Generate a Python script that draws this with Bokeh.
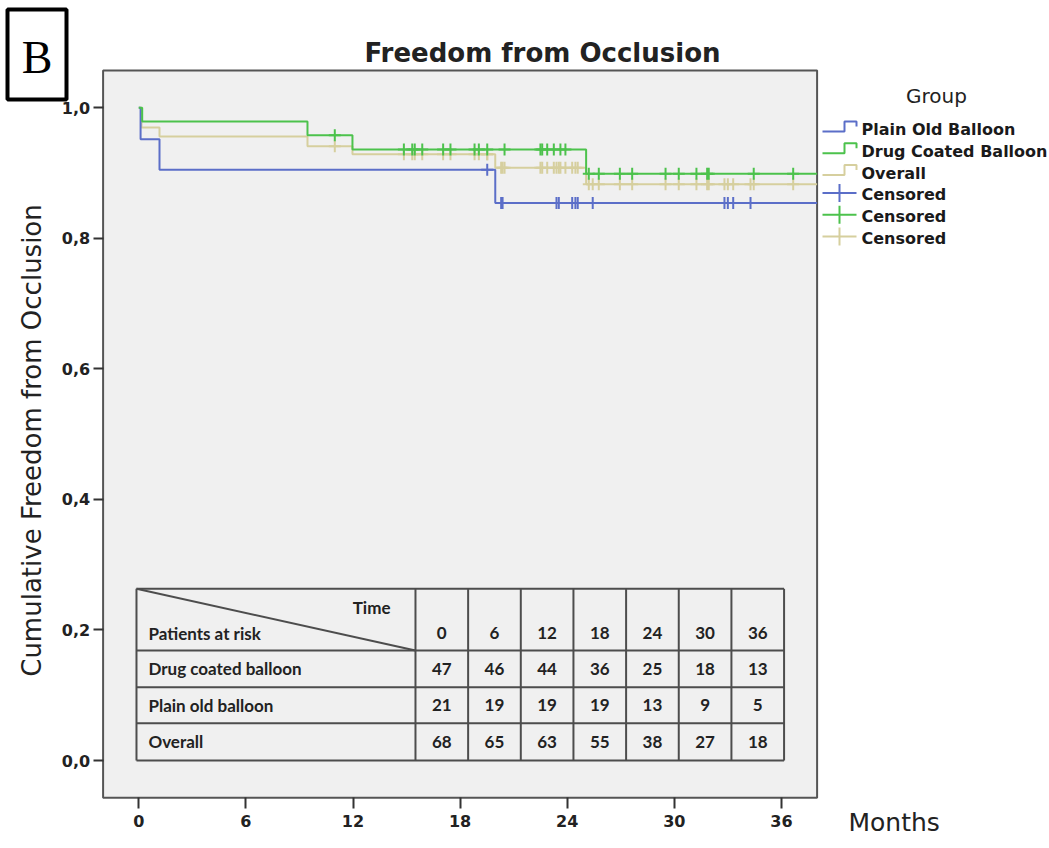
import numpy as np
from bokeh.plotting import figure
from bokeh.models import Range1d, LinearAxis, FixedTicker, CustomJSTickFormatter
from bokeh.embed import file_html
from bokeh.resources import INLINE
from bokeh.core.properties import value

# Kaplan-Meier estimates: event times (months) and survival after each event
dcb_event_times = [0.19, 9.45, 11.97, 25.06]
dcb_survival = [0.979, 0.958, 0.936, 0.899]
pob_event_times = [0.10, 1.16, 19.97]
pob_survival = [0.952, 0.905, 0.854]
overall_event_times = [0.15, 1.16, 9.45, 11.97, 19.97, 25.06]
overall_survival = [0.970, 0.956, 0.941, 0.929, 0.908, 0.883]
follow_up_end = 38.0

# censoring times (months)
dcb_censored = [10.98, 14.85, 15.32, 15.46, 15.88, 17.05, 17.46, 18.81, 19.05,
                19.52, 20.49, 22.50, 22.60, 22.88, 23.25, 23.62, 23.90, 25.21,
                25.77, 26.95, 27.64, 29.51, 30.25, 31.24, 31.84, 31.93, 34.45,
                36.66]
pob_censored = [19.52, 20.30, 20.38, 23.40, 23.53, 24.28, 24.46, 24.59, 25.43,
                32.81, 33.00, 33.30, 34.27]
overall_censored = sorted(dcb_censored + pob_censored)

# patients at risk
risk_times = [0, 6, 12, 18, 24, 30, 36]
risk_dcb = [47, 46, 44, 36, 25, 18, 13]
risk_pob = [21, 19, 19, 19, 13, 9, 5]
risk_overall = [68, 65, 63, 55, 38, 27, 18]
risk_row_labels = ["Drug coated balloon", "Plain old balloon", "Overall"]

x_ticks = [0, 6, 12, 18, 24, 30, 36]
y_ticks = [0.0, 0.2, 0.4, 0.6, 0.8, 1.0]

legend_labels = ["Plain Old Balloon", "Drug Coated Balloon", "Overall",
                 "Censored", "Censored", "Censored"]

BLUE = "#5b6ec8"
GREEN = "#4cc24c"
TAN = "#d6cf9e"
INK = "#222222"

# page layout: the whole canvas is the drawing frame; the grey plot area
# covers months -2..38 and freedom -0.057..1.057
W, H = 1049, 848
X0_PX, PX_PER_MONTH = 138.3, 17.85
Y0_PX, PX_PER_UNIT = 760.0, 652.7
AREA_X = (-2.0, 38.0)
AREA_Y = (-0.057, 1.057)


def px_x(px):
    return (px - X0_PX) / PX_PER_MONTH


def px_y(py):
    return (Y0_PX - py) / PX_PER_UNIT


def step_xy(times, surv):
    xs = [0.0] + list(times) + [follow_up_end]
    ys = [1.0] + list(surv) + [surv[-1]]
    return xs, ys


def level_at(times, surv, ts):
    idx = np.searchsorted(np.asarray(times), np.asarray(ts), side="right")
    levels = np.concatenate([[1.0], surv])
    return levels[idx]


p = figure(width=W, height=H, title=None,
           x_range=Range1d(px_x(0), px_x(W)), y_range=Range1d(px_y(H), px_y(0)),
           x_axis_type=None, y_axis_type=None,
           output_backend="svg", toolbar_location=None, min_border=0,
           background_fill_color="white", border_fill_color="white",
           outline_line_color=None)
p.grid.visible = False

# grey plot area with its frame
p.quad(left=[AREA_X[0]], right=[AREA_X[1]], bottom=[AREA_Y[0]], top=[AREA_Y[1]],
       fill_color="#f0f0f0", line_color="#555555", line_width=2)

axis_kw = dict(axis_line_color=None, major_tick_line_color="#333333",
               major_tick_line_width=2, major_tick_in=0,
               minor_tick_line_color=None,
               major_label_text_font="DejaVu Sans",
               major_label_text_font_style="bold",
               major_label_text_font_size="16px",
               major_label_text_color=INK)
xaxis = LinearAxis(fixed_location=AREA_Y[0], ticker=FixedTicker(ticks=x_ticks),
                   major_tick_out=11, major_label_standoff=6, **axis_kw)
yaxis = LinearAxis(fixed_location=AREA_X[0], ticker=FixedTicker(ticks=y_ticks),
                   major_tick_out=10, major_label_standoff=3,
                   formatter=CustomJSTickFormatter(
                       code="return tick.toFixed(1).replace('.', ',');"),
                   **axis_kw)
p.add_layout(xaxis, "below")
p.add_layout(yaxis, "left")

# survival curves with censoring marks
groups = [
    (overall_event_times, overall_survival, overall_censored, TAN),
    (pob_event_times, pob_survival, pob_censored, BLUE),
    (dcb_event_times, dcb_survival, dcb_censored, GREEN),
]
for times, surv, cens, color in groups:
    xs, ys = step_xy(times, surv)
    p.step(xs, ys, mode="after", line_color=color, line_width=2)
    p.scatter(cens, level_at(times, surv, cens), marker="cross", size=12,
              line_color=color, line_width=2)

# risk table drawn inside the plot area
tbl_left, tbl_label_right, col_w = -0.13, 15.5, 2.95
row_edges = [0.263, 0.1685, 0.1123, 0.0571, 0.0]
col_edges = [tbl_left] + [tbl_label_right + i * col_w for i in range(len(risk_times) + 1)]
tbl_right = col_edges[-1]
line_kw = dict(line_color="#4d4d4d", line_width=2)
p.segment(x0=[tbl_left] * len(row_edges), y0=row_edges,
          x1=[tbl_right] * len(row_edges), y1=row_edges, **line_kw)
p.segment(x0=col_edges, y0=[row_edges[0]] * len(col_edges),
          x1=col_edges, y1=[row_edges[-1]] * len(col_edges), **line_kw)
p.segment(x0=[tbl_left], y0=[row_edges[0]], x1=[tbl_label_right], y1=[row_edges[1]],
          **line_kw)

txt_kw = dict(text_font=value("Lato"), text_font_style="bold",
              text_font_size="17px", text_color=INK, text_baseline="middle")
col_centers = [(col_edges[i + 1] + col_edges[i + 2]) / 2 for i in range(len(risk_times))]
header_y = 0.1946
row_centers = [(row_edges[i] + row_edges[i + 1]) / 2 for i in range(1, 4)]
p.text(x=[14.1], y=[0.2344], text=["Time"], text_align="right", **txt_kw)
p.text(x=[0.54], y=[header_y], text=["Patients at risk"], text_align="left", **txt_kw)
p.text(x=[0.54] * 3, y=row_centers, text=risk_row_labels, text_align="left", **txt_kw)
p.text(x=col_centers, y=[header_y] * len(risk_times),
       text=[str(t) for t in risk_times], text_align="center", **txt_kw)
for counts, yc in zip([risk_dcb, risk_pob, risk_overall], row_centers):
    p.text(x=col_centers, y=[yc] * len(counts), text=[str(c) for c in counts],
           text_align="center", **txt_kw)

# title, axis titles
p.text(x=[px_x(542)], y=[px_y(52)], text=["Freedom from Occlusion"],
       text_font=value("DejaVu Sans"), text_font_style="bold",
       text_font_size="26px", text_color=INK, text_align="center",
       text_baseline="middle")
p.text(x=[px_x(31)], y=[px_y(440)], text=["Cumulative Freedom from Occlusion"],
       angle=np.pi / 2, text_font=value("DejaVu Sans"), text_font_size="26px",
       text_color=INK, text_align="center", text_baseline="middle")
p.text(x=[px_x(848)], y=[px_y(822)], text=["Months"],
       text_font=value("DejaVu Sans"), text_font_size="25px", text_color=INK,
       text_align="left", text_baseline="middle")

# panel letter in a framed box
p.quad(left=[px_x(7)], right=[px_x(66)], top=[px_y(9)], bottom=[px_y(99)],
       fill_color="white", line_color="black", line_width=4)
p.text(x=[px_x(36.5)], y=[px_y(57)], text=["B"], text_font=value("Liberation Serif"),
       text_font_size="46px", text_color="black", text_align="center",
       text_baseline="middle")

# legend
p.text(x=[px_x(936)], y=[px_y(95)], text=["Group"], text_font=value("DejaVu Sans"),
       text_font_size="20px", text_color=INK, text_align="center",
       text_baseline="middle")
entry_colors = [BLUE, GREEN, TAN, BLUE, GREEN, TAN]
entry_y = [129 + 21.8 * i for i in range(6)]
for i, (c, yc) in enumerate(zip(entry_colors, entry_y)):
    if i < 3:
        xs = [822, 844, 844, 856, 856]
        ys = [yc + 2, yc + 2, yc - 8, yc - 8, yc - 3]
        p.line([px_x(v) for v in xs], [px_y(v) for v in ys], line_color=c, line_width=2)
    else:
        p.line([px_x(822), px_x(856)], [px_y(yc - 2)] * 2, line_color=c, line_width=2)
        p.line([px_x(839)] * 2, [px_y(yc - 11), px_y(yc + 7)], line_color=c, line_width=2)
p.text(x=[px_x(861)] * 6, y=[px_y(v) for v in entry_y], text=legend_labels,
       text_font=value("DejaVu Sans"), text_font_style="bold",
       text_font_size="16px", text_color="#1a1a1a", text_align="left",
       text_baseline="middle")

open("out.html", "w").write(file_html(p, INLINE))
